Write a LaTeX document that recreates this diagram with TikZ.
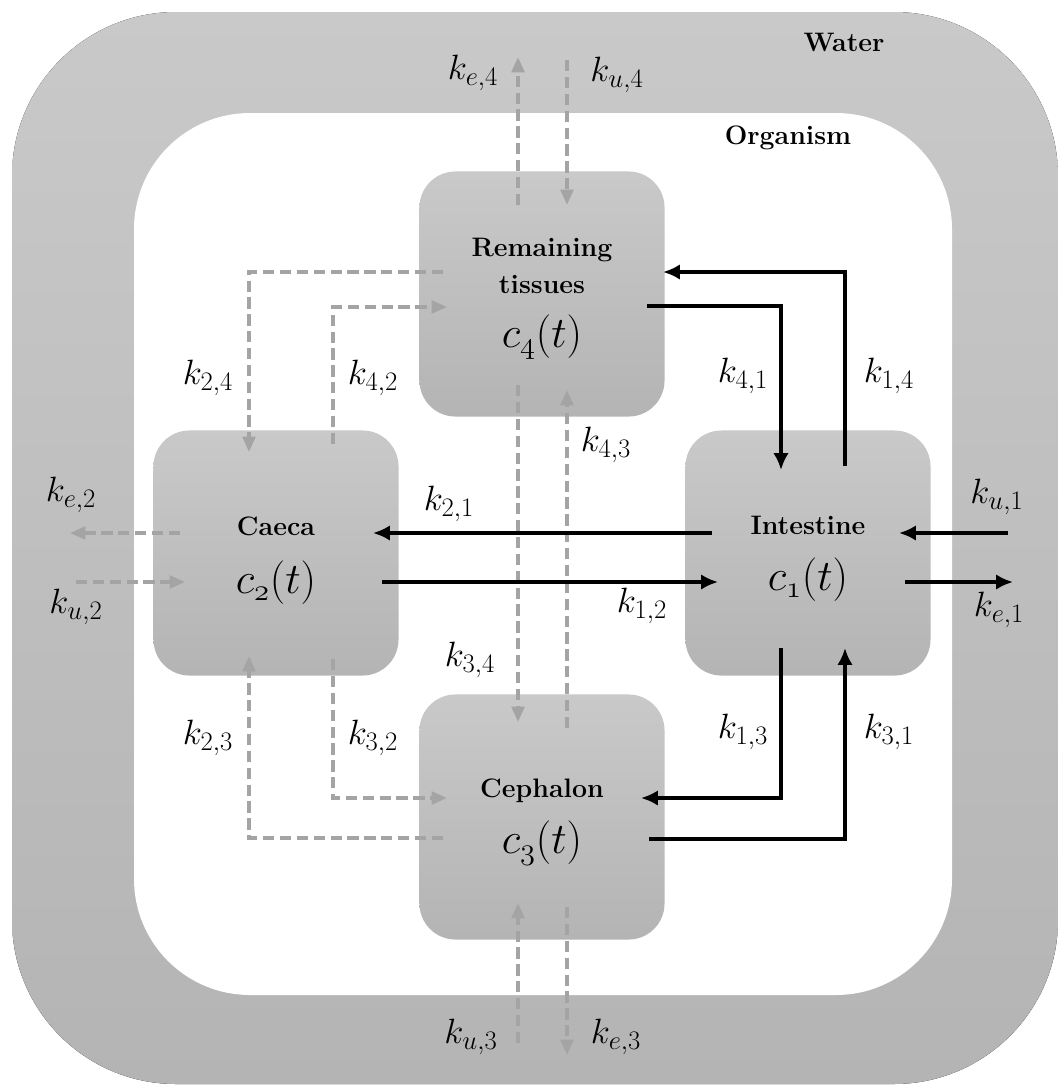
\documentclass[tikz,border=0pt]{standalone}
\usepackage{fix-cm}
\usepackage{tikz}
\usetikzlibrary{arrows.meta,calc,positioning}
\DeclareMathSizes{25}{25}{19}{15}
\definecolor{boxtop}{HTML}{C9C9C9}
\definecolor{boxbot}{HTML}{B4B4B4}
\definecolor{dashgray}{HTML}{A4A4A4}
\newcommand{\orgfont}{\bfseries\fontsize{19}{23}\selectfont}
\newcommand{\concfont}{\fontsize{31}{36}\selectfont}
\newcommand{\conc}[1]{$c_{\mathnormal{#1}}(t)$}

\begin{document}
\begin{tikzpicture}[
  x=0.025cm, y=-0.025cm,
  flow/.style={-{Latex[length=12pt,width=11pt]}, line width=2.5pt, black},
  exch/.style={-{Triangle[length=11pt,width=9pt]}, line width=2.5pt, dashgray, dash pattern=on 8pt off 4pt},
  organ/.style={rounded corners=0.9cm, minimum width=6.125cm, minimum height=6.125cm, top color=boxtop, bottom color=boxbot, inner sep=0pt},
  orgname/.style={font=\orgfont},
  conclabel/.style={font=\concfont},
  rate/.style={font=\fontsize{25}{30}\selectfont},
  zone/.style={font=\bfseries\fontsize{19}{23}\selectfont}
]
  \useasboundingbox (0,0) rectangle (1058,1088);

  % water and organism
  \fill[top color=boxtop, bottom color=boxbot, rounded corners=4.1cm] (12,12) rectangle (1058,1084);
  \fill[white, rounded corners=2.9cm] (134,113) rectangle (952,995);
  \node[zone] (water) at (844,42) {Water};
  \node[zone] (organism) at (788,138) {Organism};

  % compartments
  \node[organ] (rem) at (542,294) {};
  \node[organ] (caeca) at (276,553) {};
  \node[organ] (intest) at (808,553) {};
  \node[organ] (ceph) at (542,817) {};

  \node[orgname] (remname) at ($(rem)+(0,-44)$) {Remaining};
  \node[orgname] (remname2) at ($(rem)+(0,-10)$) {tissues};
  \node[conclabel] (c4) at ($(rem)+(0,43)$) {\conc{4}};
  \node[orgname] (caecaname) at ($(caeca)+(0,-27)$) {Caeca};
  \node[conclabel] (c2) at ($(caeca)+(0,30)$) {\conc{2}};
  \node[orgname] (intestname) at ($(intest)+(0,-28)$) {Intestine};
  \node[conclabel] (c1) at ($(intest)+(0,27)$) {\conc{1}};
  \node[orgname] (cephname) at ($(ceph)+(0,-26)$) {Cephalon};
  \node[conclabel] (c3) at ($(ceph)+(0,26)$) {\conc{3}};

  % free ends in the water
  \coordinate (e4) at (518,57);
  \coordinate (u4) at (567,60);
  \coordinate (e2) at (70,533);
  \coordinate (u2) at (76,582);
  \coordinate (u1) at (1008,533);
  \coordinate (e1) at (1013,582);
  \coordinate (u3) at (518,1043);
  \coordinate (e3) at (567,1055);

  % grey exchanges
  \draw[exch] ($(rem)+(-24,-89)$) -- (e4);
  \draw[exch] (u4) -- ($(rem)+(25,-89)$);
  \draw[exch] ($(rem)+(-99,-22)$) -| ($(caeca)+(-27,-101)$);
  \draw[exch] ($(caeca)+(57,-109)$) |- ($(rem)+(-95,13)$);
  \draw[exch] ($(ceph)+(-99,21)$) -| ($(caeca)+(-27,103)$);
  \draw[exch] ($(caeca)+(57,106)$) |- ($(ceph)+(-95,-19)$);
  \draw[exch] ($(caeca)+(-96,-20)$) -- (e2);
  \draw[exch] (u2) -- ($(caeca)+(-91,29)$);
  \draw[exch] ($(ceph)+(25,-89)$) -- ($(rem)+(25,96)$);
  \draw[exch] ($(rem)+(-24,91)$) -- ($(ceph)+(-24,-95)$);
  \draw[exch] (u3) -- ($(ceph)+(-24,86)$);
  \draw[exch] ($(ceph)+(25,90)$) -- (e3);

  % black flows
  \draw[flow] ($(intest)+(-96,-20)$) -- ($(caeca)+(97,-20)$);
  \draw[flow] ($(caeca)+(106,29)$) -- ($(intest)+(-90,29)$);
  \draw[flow] (u1) -- ($(intest)+(91,-20)$);
  \draw[flow] ($(intest)+(97,29)$) -- (e1);
  \draw[flow] ($(rem)+(105,12)$) -| ($(intest)+(-27,-83)$);
  \draw[flow] ($(intest)+(37,-87)$) |- ($(rem)+(121,-22)$);
  \draw[flow] ($(intest)+(-27,95)$) |- ($(ceph)+(99,-19)$);
  \draw[flow] ($(ceph)+(107,22)$) -| ($(intest)+(37,95)$);

  % rates
  \node[rate] (ke4) at (473,73) {$k_{e,4}$};
  \node[rate] (ku4) at (617,75) {$k_{u,4}$};
  \node[rate] (k24) at (208,378) {$k_{2,4}$};
  \node[rate] (k42) at (373,378) {$k_{4,2}$};
  \node[rate] (k41) at (743,376) {$k_{4,1}$};
  \node[rate] (k14) at (889,376) {$k_{1,4}$};
  \node[rate] (k43) at (606,445) {$k_{4,3}$};
  \node[rate] (ke2) at (71,495) {$k_{e,2}$};
  \node[rate] (ku2) at (76,607) {$k_{u,2}$};
  \node[rate] (k21) at (449,504) {$k_{2,1}$};
  \node[rate] (k12) at (642,606) {$k_{1,2}$};
  \node[rate] (ku1) at (997,497) {$k_{u,1}$};
  \node[rate] (ke1) at (999,610) {$k_{e,1}$};
  \node[rate] (k34) at (470,660) {$k_{3,4}$};
  \node[rate] (k23) at (208,738) {$k_{2,3}$};
  \node[rate] (k32) at (373,738) {$k_{3,2}$};
  \node[rate] (k13) at (743,732) {$k_{1,3}$};
  \node[rate] (k31) at (889,732) {$k_{3,1}$};
  \node[rate] (ku3) at (471,1037) {$k_{u,3}$};
  \node[rate] (ke3) at (616,1037) {$k_{e,3}$};
\end{tikzpicture}
\end{document}
